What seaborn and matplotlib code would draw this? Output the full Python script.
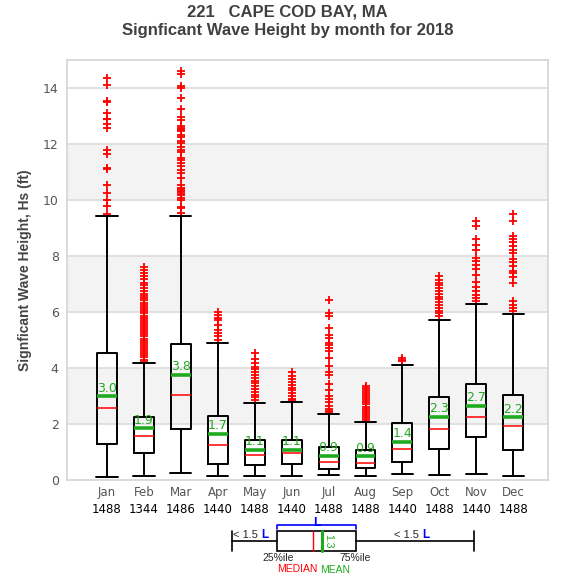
import numpy as np
import pandas as pd
import matplotlib
matplotlib.use("Agg")
import matplotlib.pyplot as plt
import seaborn as sns

months = ["Jan", "Feb", "Mar", "Apr", "May", "Jun", "Jul", "Aug", "Sep", "Oct", "Nov", "Dec"]
counts = [1488, 1344, 1486, 1440, 1488, 1440, 1488, 1488, 1440, 1488, 1440, 1488]
q1 = [1.27, 0.95, 1.81, 0.56, 0.54, 0.57, 0.39, 0.43, 0.64, 1.11, 1.54, 1.07]
median = [2.56, 1.56, 3.02, 1.24, 0.89, 0.96, 0.64, 0.61, 1.12, 1.82, 2.25, 1.93]
q3 = [4.52, 2.24, 4.85, 2.27, 1.43, 1.43, 1.18, 1.07, 2.04, 2.96, 3.43, 3.04]
mean = [3.0, 1.86, 3.76, 1.66, 1.08, 1.08, 0.87, 0.86, 1.37, 2.26, 2.66, 2.24]
whislo = [0.11, 0.13, 0.24, 0.15, 0.15, 0.15, 0.19, 0.15, 0.21, 0.19, 0.21, 0.15]
whishi = [9.44, 4.17, 9.42, 4.89, 2.75, 2.79, 2.36, 2.07, 4.11, 5.72, 6.29, 5.93]
fliers = {
    "Jan": [14.36, 14.11, 13.52, 13.5, 13.12, 12.91, 12.88, 12.71, 12.56, 11.80, 11.64, 11.16, 11.12,
            10.54, 10.25, 10.0, 9.79, 9.49],
    "Feb": [7.6, 7.5, 7.38, 7.3, 7.18, 7.05, 6.95, 6.85, 6.75, 6.65, 6.58, 6.5, 6.42, 6.33, 6.25, 6.18,
            6.1, 6.02, 5.95, 5.87, 5.8, 5.72, 5.65, 5.58, 5.5, 5.43, 5.35, 5.28, 5.2, 5.13, 5.05, 4.98,
            4.9, 4.83, 4.75, 4.68, 4.6, 4.53, 4.45, 4.38, 4.3, 4.22],
    "Mar": [14.62, 14.51, 14.06, 14.0, 13.64, 13.25, 12.96, 12.87, 12.63, 12.58, 12.53, 12.49, 12.45,
            12.33, 12.25, 12.09, 12.04, 11.89, 11.8, 11.7, 11.5, 11.44, 11.32, 11.23, 11.08, 10.96,
            10.79, 10.55, 10.43, 10.38, 10.33, 10.28, 10.23, 10.19, 10.08, 10.01, 9.76, 9.71, 9.54],
    "Apr": [6.0, 5.9, 5.8, 5.7, 5.55, 5.37, 5.25, 5.15, 5.01],
    "May": [4.53, 4.32, 4.18, 4.05, 3.95, 3.85, 3.75, 3.65, 3.55, 3.45, 3.35, 3.25, 3.15, 3.05, 2.95,
            2.85],
    "Jun": [3.86, 3.71, 3.6, 3.5, 3.4, 3.3, 3.2, 3.1, 3.0, 2.9, 2.85],
    "Jul": [6.44, 5.96, 5.87, 5.43, 5.19, 5.07, 4.91, 4.81, 4.71, 4.59, 4.36, 4.06, 3.84, 3.76, 3.44,
            3.22, 2.99, 2.89, 2.77, 2.65, 2.55, 2.48, 2.42],
    "Aug": [3.37, 3.3, 3.22, 3.15, 3.08, 3.0, 2.92, 2.85, 2.78, 2.7, 2.62, 2.55, 2.48, 2.4, 2.32, 2.25,
            2.18, 2.12],
    "Sep": [4.36, 4.3, 4.24],
    "Oct": [7.27, 7.15, 7.05, 6.95, 6.85, 6.75, 6.65, 6.55, 6.45, 6.35, 6.25, 6.15, 6.05, 5.95, 5.84],
    "Nov": [9.24, 9.06, 8.61, 8.40, 8.23, 7.93, 7.81, 7.69, 7.54, 7.33, 7.06, 6.91, 6.74, 6.62, 6.50,
            6.38],
    "Dec": [9.5, 9.24, 8.72, 8.61, 8.49, 8.34, 8.22, 8.1, 7.9, 7.77, 7.63, 7.47, 7.39, 7.24, 7.04, 6.38,
            6.26, 6.14, 6.02],
}
yticks = [0, 2, 4, 6, 8, 10, 12, 14]

sns.set_style("white")
plt.rcParams["font.family"] = ["DejaVu Sans"]

fig = plt.figure(figsize=(5.75, 5.8), dpi=100)
ax = fig.add_axes([67 / 575, 1 - 480 / 580, (548 - 67) / 575, (480 - 60) / 580])

GREEN = "#1faa1f"

# bands
for lo in [2, 6, 10]:
    ax.axhspan(lo, lo + 2, color="#f3f3f3", zorder=0, lw=0)
for t in yticks[1:]:
    ax.axhline(t, color="#dcdcdc", lw=1.2, zorder=0.5)

# fliers via seaborn
fl = pd.DataFrame([(m, v) for m in months for v in fliers[m]], columns=["month", "value"])
sns.stripplot(data=fl, x="month", y="value", order=months, jitter=False, marker="+",
              color="red", size=6, linewidth=1.3, ax=ax, zorder=3)

stats = []
for i, m in enumerate(months):
    stats.append(dict(label=m, q1=q1[i], med=median[i], q3=q3[i], mean=mean[i],
                      whislo=whislo[i], whishi=whishi[i], fliers=[]))
ax.bxp(stats, positions=list(range(len(months))), widths=0.54, showmeans=True, meanline=True,
       showfliers=False, manage_ticks=False,
       boxprops=dict(color="black", lw=1.4),
       whiskerprops=dict(color="black", lw=1.4),
       capprops=dict(color="black", lw=1.4),
       capwidths=0.58,
       medianprops=dict(color="red", lw=1.1),
       meanprops=dict(color=GREEN, lw=2.6, ls="-"), zorder=4)

for i, mv in enumerate(mean):
    ax.text(i, mv + 0.05, f"{mv:.1f}", color=GREEN, ha="center", va="bottom", fontsize=9, zorder=5)

ax.set_xlim(-1.08, 11.94)
ax.set_ylim(0, 15)
ax.set_yticks(yticks)
ax.set_yticklabels([str(t) for t in yticks], color="#555555", fontsize=9)
ax.set_xticks(range(len(months)))
ax.set_xticklabels(months, color="#555555", fontsize=8.5)
ax.tick_params(axis="x", length=0, pad=4)
ax.tick_params(axis="y", length=0, pad=6)
ax.set_xlabel("")
ax.set_ylabel("Signficant Wave Height, Hs (ft)", fontsize=10, fontweight="bold",
              color="#444444", family="Liberation Sans", labelpad=8)
for s in ax.spines.values():
    s.set_color("#d4d4d4")
    s.set_linewidth(1.2)

for i, c in enumerate(counts):
    ax.text(i, -1.07, str(c), transform=ax.transData, ha="center", va="center",
            fontsize=8.5, color="black", clip_on=False)

fig.text(0.5, 1 - 12 / 580, "221   CAPE COD BAY, MA", ha="center", va="center",
         fontsize=12, fontweight="bold", color="#404040", family="Liberation Sans")
fig.text(0.5, 1 - 31 / 580, "Signficant Wave Height by month for 2018", ha="center", va="center",
         fontsize=12, fontweight="bold", color="#404040", family="Liberation Sans")

# legend schematic (pixel coordinates)
lg = fig.add_axes([0, 0, 1, 1], facecolor="none")
lg.set_xlim(0, 575)
lg.set_ylim(580, 0)
lg.axis("off")
k = dict(color="black", lw=1.2)
lg.plot([232, 232], [531, 551], **k)
lg.plot([474, 474], [531, 551], **k)
lg.plot([232, 277], [541, 541], **k)
lg.plot([356, 474], [541, 541], **k)
lg.add_patch(plt.Rectangle((277, 531), 79, 20, fill=False, ec="black", lw=1.2))
lg.plot([313, 313], [531, 551], color="red", lw=1)
lg.plot([321.5, 321.5], [531, 551], color=GREEN, lw=2.2)
lg.text(328, 541, "1.3", color=GREEN, rotation=-90, ha="center", va="center", fontsize=7.5,
        family="Liberation Sans")
lg.plot([277, 277, 356, 356], [529, 525, 525, 529], color="blue", lw=1.2)
lg.text(316.5, 523.5, "L", color="blue", fontweight="bold", ha="center", va="center", fontsize=9,
        family="Liberation Sans")
for xr in [261, 422]:
    lg.text(xr, 535, "< 1.5 ", ha="right", va="center", fontsize=8, family="Liberation Sans")
    lg.text(xr, 535, "L", ha="left", va="center", fontsize=8.5, color="blue",
            fontweight="bold", family="Liberation Sans")
lg.text(278, 558, "25%ile", ha="center", va="center", fontsize=7.5, family="Liberation Sans")
lg.text(355, 558, "75%ile", ha="center", va="center", fontsize=7.5, family="Liberation Sans")
lg.text(297, 568.5, "MEDIAN", ha="center", va="center", fontsize=7.5, color="red",
        family="Liberation Sans")
lg.text(335, 570, "MEAN", ha="center", va="center", fontsize=7.5, color=GREEN,
        family="Liberation Sans")

fig.savefig("out.png", dpi=100)
